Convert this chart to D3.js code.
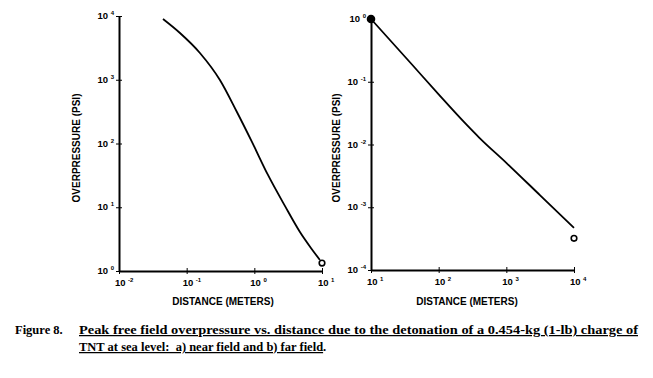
<!DOCTYPE html>
<html>
<head>
<meta charset="utf-8">
<script src="https://cdn.jsdelivr.net/npm/d3@7"></script>
<style>
  body { margin: 0; background: #fff; }
  svg { display: block; }
  .axis path, .axis line { stroke: #000; }
  .tick-label { font-family: "Liberation Sans", Arial, sans-serif; font-weight: bold; font-size: 9.5px; fill: #000; }
  .axis-title { font-family: "Liberation Sans", Arial, sans-serif; font-weight: bold; font-size: 10px; fill: #000; }
  .caption { font-family: "Liberation Serif", "Times New Roman", serif; font-weight: bold; font-size: 12.5px; fill: #000; white-space: pre; }
</style>
</head>
<body>
<div id="chart"></div>
<script>
// (a) near field: distance (m) vs overpressure (psi)
const nearDistance = [0.0447, 0.0796, 0.157, 0.310, 0.553, 0.922, 1.59, 2.83, 4.72, 6.86, 9.31];
const nearPressure = [8970, 5410, 2630, 991, 312, 106, 32.1, 10.5, 4.09, 2.30, 1.49];
const nearOpen = {x: 10, y: 1.33};
const nearXTicks = [-2, -1, 0, 1];
const nearYTicks = [0, 1, 2, 3, 4];

// (b) far field
const farDistance = [10, 40, 100, 250, 400, 1000, 3160, 10000];
const farPressure = [1.0, 0.19, 0.063, 0.0215, 0.0128, 0.0051, 0.00155, 0.00047];
const farFilled = {x: 10, y: 1.0};
const farOpen = {x: 10000, y: 0.00032};
const farXTicks = [1, 2, 3, 4];
const farYTicks = [-4, -3, -2, -1, 0];

const captionLabel = "Figure 8.";
const captionLine1 = "Peak free field overpressure vs. distance due to the detonation of a 0.454-kg (1-lb) charge of";
const captionLine2 = "TNT at sea level:  a) near field and b) far field";

const W = 653, H = 378;
const svg = d3.select("#chart").append("svg")
    .attr("width", W)
    .attr("height", H);

function drawPanel(cfg) {
    const g = svg.append("g");
    const x = d3.scaleLog().domain(cfg.xDomain).range(cfg.xRange);
    const y = d3.scaleLog().domain(cfg.yDomain).range(cfg.yRange);
    const x0 = cfg.xRange[0], y0 = cfg.yRange[0];
    const xTickVals = cfg.xTicks.map(e => Math.pow(10, e));
    const yTickVals = cfg.yTicks.map(e => Math.pow(10, e));

    // axes: ticks cross the line, so draw both sides
    const xAxis = g.append("g").attr("class", "axis")
        .attr("transform", `translate(0, ${y0})`)
        .call(d3.axisBottom(x).tickValues(xTickVals).tickSizeInner(3).tickSizeOuter(0).tickFormat(""));
    xAxis.select(".domain").attr("stroke-width", 2);
    g.append("g").attr("class", "axis")
        .attr("transform", `translate(0, ${y0})`)
        .call(d3.axisTop(x).tickValues(xTickVals).tickSizeInner(3).tickSizeOuter(0).tickFormat(""))
        .select(".domain").remove();

    const yAxis = g.append("g").attr("class", "axis")
        .attr("transform", `translate(${x0}, 0)`)
        .call(d3.axisLeft(y).tickValues(yTickVals).tickSizeInner(3).tickSizeOuter(0).tickFormat(""));
    yAxis.select(".domain").attr("stroke-width", 2);
    g.append("g").attr("class", "axis")
        .attr("transform", `translate(${x0}, 0)`)
        .call(d3.axisRight(y).tickValues(yTickVals).tickSizeInner(3).tickSizeOuter(0).tickFormat(""))
        .select(".domain").remove();

    // tick labels 10^n
    const xl = g.selectAll(".xlab").data(cfg.xTicks).enter().append("text")
        .attr("class", "tick-label")
        .attr("x", d => x(Math.pow(10, d)) - 4)
        .attr("y", y0 + 15);
    xl.append("tspan").text("10");
    xl.append("tspan").attr("dx", 2.5).attr("dy", -4).attr("font-size", "6px").text(d => d);

    const yl = g.selectAll(".ylab").data(cfg.yTicks).enter().append("text")
        .attr("class", "tick-label")
        .attr("text-anchor", "end")
        .attr("x", x0 - 5)
        .attr("y", d => y(Math.pow(10, d)) + 3);
    yl.append("tspan").text("10");
    yl.append("tspan").attr("dx", 2.5).attr("dy", -4).attr("font-size", "6px").text(d => d);

    // axis titles
    g.append("text").attr("class", "axis-title")
        .attr("text-anchor", "middle")
        .attr("x", cfg.xTitleX).attr("y", 305)
        .text("DISTANCE (METERS)");
    g.append("text").attr("class", "axis-title")
        .attr("text-anchor", "middle")
        .attr("transform", `translate(${cfg.yTitleX}, 148) rotate(-90)`)
        .text("OVERPRESSURE (PSI)");

    // curve
    const pts = cfg.xs.map((d, i) => ({x: d, y: cfg.ys[i]}));
    const line = d3.line()
        .x(d => x(d.x))
        .y(d => y(d.y))
        .curve(d3.curveMonotoneX);
    g.append("path")
        .datum(pts)
        .attr("d", line)
        .attr("fill", "none")
        .attr("stroke", "#000")
        .attr("stroke-width", 1.8);

    cfg.markers.forEach(m => {
        g.append("circle")
            .attr("cx", x(m.x)).attr("cy", y(m.y))
            .attr("r", m.filled ? 3.5 : 2.8)
            .attr("fill", m.filled ? "#000" : "#fff")
            .attr("stroke", "#000")
            .attr("stroke-width", 1.6);
    });
}

drawPanel({
    xDomain: [1e-2, 10], xRange: [119, 322],
    yDomain: [1, 1e4], yRange: [271, 16],
    xTicks: nearXTicks, yTicks: nearYTicks,
    xs: nearDistance, ys: nearPressure,
    markers: [{x: nearOpen.x, y: nearOpen.y, filled: false}],
    xTitleX: 223, yTitleX: 80
});

drawPanel({
    xDomain: [10, 1e4], xRange: [371, 574],
    yDomain: [1e-4, 1], yRange: [270, 19],
    xTicks: farXTicks, yTicks: farYTicks,
    xs: farDistance, ys: farPressure,
    markers: [{x: farFilled.x, y: farFilled.y, filled: true}, {x: farOpen.x, y: farOpen.y, filled: false}],
    xTitleX: 467, yTitleX: 340
});

// caption
svg.append("text").attr("class", "caption")
    .attr("x", 15).attr("y", 334)
    .text(captionLabel);
svg.append("text").attr("class", "caption")
    .attr("x", 79).attr("y", 334)
    .attr("text-decoration", "underline")
    .attr("textLength", 559).attr("lengthAdjust", "spacingAndGlyphs")
    .text(captionLine1);
const c2 = svg.append("text").attr("class", "caption")
    .attr("x", 79).attr("y", 351);
c2.append("tspan").attr("text-decoration", "underline").text(captionLine2);
c2.append("tspan").text(".");
</script>
</body>
</html>
